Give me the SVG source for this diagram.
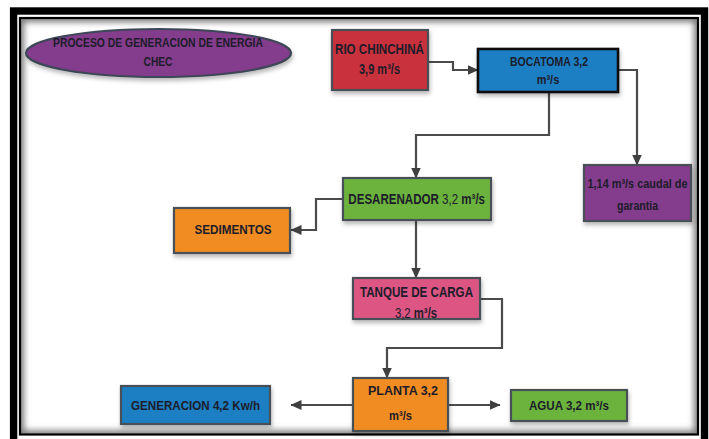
<svg xmlns="http://www.w3.org/2000/svg" width="709" height="439" viewBox="0 0 709 439">
<defs>
<style>
.t{font-family:"Liberation Sans",Arial,sans-serif;font-weight:bold;fill:#1c1c2a;}
.n{font-weight:normal;}
.box{stroke:#4a4f57;stroke-width:2.2;filter:url(#sh);}
.con{fill:none;stroke:#4b4b4b;stroke-width:2.2;}
</style>
<filter id="sh" x="-20%" y="-20%" width="140%" height="160%">
<feDropShadow dx="1" dy="3" stdDeviation="2" flood-color="#000" flood-opacity="0.28"/>
</filter>
<filter id="blur" x="-5%" y="-5%" width="110%" height="110%">
<feGaussianBlur stdDeviation="3"/>
</filter>
<clipPath id="inner"><rect x="20" y="18" width="678" height="416.5"/></clipPath>
<marker id="ar" markerUnits="userSpaceOnUse" markerWidth="11" markerHeight="10" refX="10.5" refY="5" orient="auto">
<path d="M0,0 L11,5 L0,10 z" fill="#3f3f3f"/>
</marker>
</defs>
<rect width="709" height="439" fill="#ffffff"/>
<!-- frame -->
<g id="frame">
<rect x="13.6" y="11" width="690.9" height="450" fill="none" stroke="#000" stroke-width="7.4"/>
<g clip-path="url(#inner)">
<rect x="20" y="18" width="678" height="416.5" fill="none" stroke="#777" stroke-width="8" filter="url(#blur)"/>
</g>
<rect x="20" y="18" width="678" height="416.5" fill="none" stroke="#000" stroke-width="2.2"/>
</g>
<!-- connectors -->
<g id="connectors">
<path class="con" d="M428,62 H453 V70 H478" marker-end="url(#ar)"/>
<path class="con" d="M618,70 H637 V165" marker-end="url(#ar)"/>
<path class="con" d="M549,92 V135 H416 V178" marker-end="url(#ar)"/>
<path class="con" d="M343,199 H316 V230 H291" marker-end="url(#ar)"/>
<path class="con" d="M416,220 V278" marker-end="url(#ar)"/>
<path class="con" d="M480,299 H502 V348 H387 V378" marker-end="url(#ar)"/>
<path class="con" d="M353,405 H291" marker-end="url(#ar)"/>
<path class="con" d="M448,405 H500" marker-end="url(#ar)"/>
</g>
<!-- nodes -->
<g id="titulo">
<ellipse cx="158.5" cy="53" rx="132.5" ry="24" fill="#833c8c" stroke="#3d4756" stroke-width="2.2" filter="url(#sh)"/>
<text class="t" x="158" y="47" font-size="12" text-anchor="middle" textLength="210" lengthAdjust="spacingAndGlyphs">PROCESO DE GENERACION DE ENERGIA</text>
<text class="t" x="158" y="66" font-size="12" text-anchor="middle" textLength="29" lengthAdjust="spacingAndGlyphs">CHEC</text>
</g>
<g id="rio">
<rect class="box" x="332" y="30" width="96" height="60" fill="#c9303e"/>
<text class="t" x="379.5" y="53.5" font-size="14" text-anchor="middle" textLength="89" lengthAdjust="spacingAndGlyphs">RIO CHINCHINÁ</text>
<text class="t" x="379.5" y="74" font-size="14" text-anchor="middle" textLength="41" lengthAdjust="spacingAndGlyphs">3,9 m³/s</text>
</g>
<g id="bocatoma">
<rect x="478" y="49" width="140" height="43" fill="#1b7fc4" stroke="#111" stroke-width="2.6" filter="url(#sh)"/>
<text class="t" x="549" y="65.5" font-size="12.5" text-anchor="middle" textLength="78" lengthAdjust="spacingAndGlyphs">BOCATOMA 3,2</text>
<text class="t" x="548" y="84" font-size="12.5" text-anchor="middle" textLength="22.5" lengthAdjust="spacingAndGlyphs">m³/s</text>
</g>
<g id="garantia">
<rect class="box" x="584" y="165" width="107" height="56" fill="#833c8c"/>
<text class="t" x="637.5" y="188" font-size="13" text-anchor="middle" textLength="100" lengthAdjust="spacingAndGlyphs">1,14 m³/s caudal de</text>
<text class="t" x="637.5" y="210" font-size="13" text-anchor="middle" textLength="41" lengthAdjust="spacingAndGlyphs">garantia</text>
</g>
<g id="desarenador">
<rect class="box" x="343" y="178" width="148" height="42" fill="#6cb33e"/>
<g transform="translate(416.7,204) scale(0.825,1)">
<text class="t" x="0" y="0" font-size="14" text-anchor="middle">DESARENADOR <tspan class="n">3,2</tspan> m³/s</text>
</g>
</g>
<g id="sedimentos">
<rect class="box" x="174" y="208" width="116" height="45" fill="#f08c24"/>
<text class="t" x="233" y="234" font-size="13.5" text-anchor="middle" textLength="77" lengthAdjust="spacingAndGlyphs">SEDIMENTOS</text>
</g>
<g id="tanque">
<rect class="box" x="353" y="278" width="127" height="41" fill="#dc5583"/>
<text class="t" x="416.5" y="297" font-size="14" text-anchor="middle" textLength="113" lengthAdjust="spacingAndGlyphs">TANQUE DE CARGA</text>
<g transform="translate(416,318) scale(0.81,1)">
<text class="t" x="0" y="0" font-size="14" text-anchor="middle"><tspan class="n">3,2</tspan> m³/s</text>
</g>
</g>
<g id="planta">
<rect class="box" x="353" y="378" width="95" height="53" fill="#f08c24"/>
<text class="t" x="403" y="395" font-size="13" text-anchor="middle" textLength="70" lengthAdjust="spacingAndGlyphs">PLANTA 3,2</text>
<text class="t" x="400.5" y="420" font-size="13" text-anchor="middle" textLength="23" lengthAdjust="spacingAndGlyphs">m³/s</text>
</g>
<g id="generacion">
<rect class="box" x="121" y="386" width="149" height="38" fill="#1b7fc4"/>
<text class="t" x="195.5" y="410" font-size="13.5" text-anchor="middle" textLength="129" lengthAdjust="spacingAndGlyphs">GENERACION 4,2 Kw/h</text>
</g>
<g id="agua">
<rect class="box" x="511" y="390" width="116" height="31" fill="#6cb33e"/>
<text class="t" x="569" y="410" font-size="13" text-anchor="middle" textLength="80" lengthAdjust="spacingAndGlyphs">AGUA 3,2 m³/s</text>
</g>
</svg>
